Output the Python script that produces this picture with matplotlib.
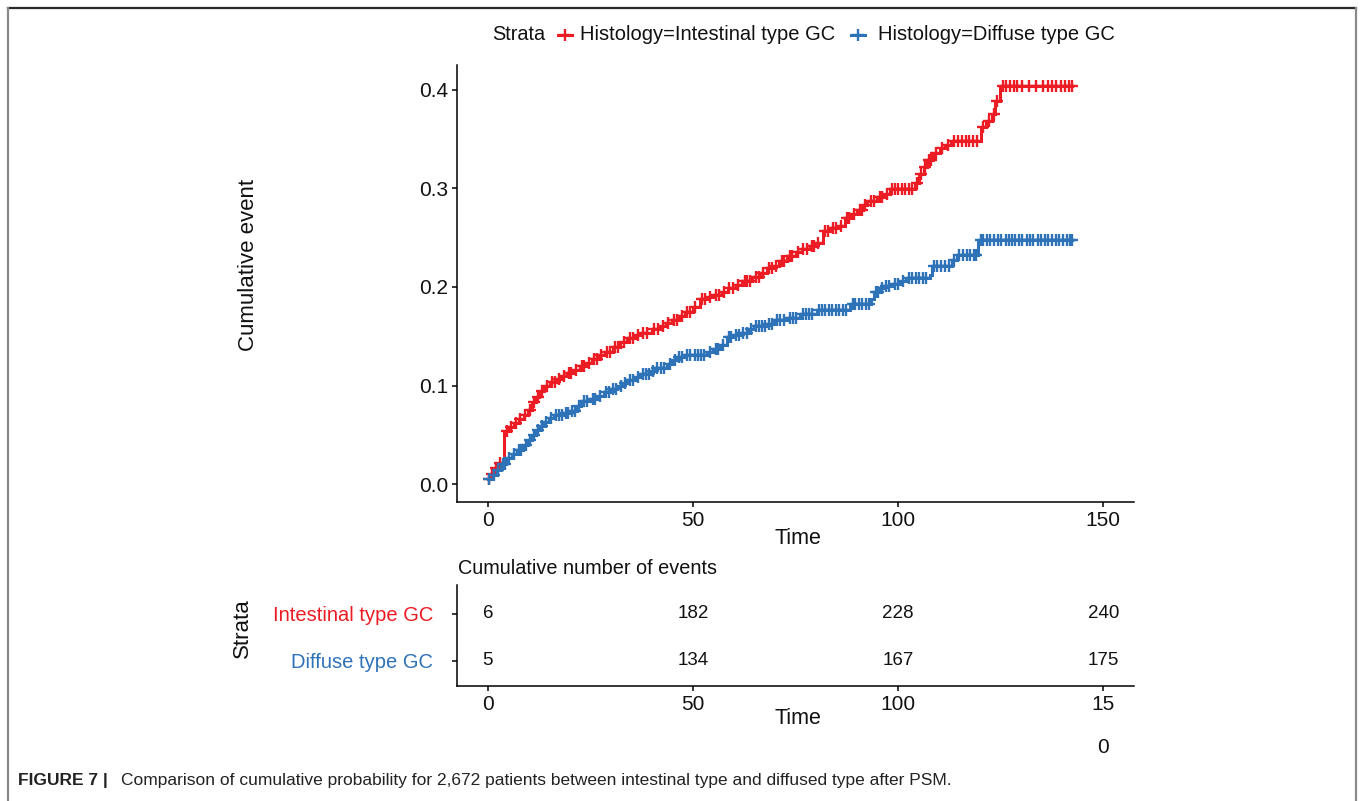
import numpy as np
import matplotlib
matplotlib.use("Agg")
import matplotlib.pyplot as plt
from matplotlib.lines import Line2D

plt.rcParams['font.family'] = ['Liberation Sans', 'DejaVu Sans']

# ---------------- data ----------------
groups = ["Intestinal type GC", "Diffuse type GC"]
legend_labels = ["Histology=Intestinal type GC", "Histology=Diffuse type GC"]
colors = ["#EC1C24", "#2E72B8"]

red_step_t = [0, 0.8, 1.5, 2.5, 4.0, 5.0, 6.3, 7.5, 8.8, 9.8, 10.8, 11.8, 12.6, 13.8, 15.2, 16.8,
              17.8, 19.2, 20.8, 22.5, 24.0, 25.5, 27.0, 28.5, 30.5, 32.2, 34.0, 36.0, 37.5, 40.0,
              42.0, 43.5, 44.8, 46.5, 48.0, 50.0, 51.8, 53.5, 55.0, 57.0, 58.5, 60.5, 62.0, 64.5,
              66.5, 68.0, 69.7, 71.0, 72.9, 75.0, 76.5, 78.5, 80.0, 81.8, 83.5, 85.5, 87.0, 88.5,
              90.0, 91.5, 92.5, 94.8, 96.5, 98.0, 104.2, 105.0, 106.2, 107.0, 108.6, 110.2, 111.5,
              113.0, 120.2, 121.5, 123.0, 123.6, 124.8, 142.5]
red_step_v = [0.005, 0.010, 0.016, 0.022, 0.054, 0.058, 0.062, 0.066, 0.070, 0.075, 0.083, 0.088,
              0.095, 0.100, 0.104, 0.107, 0.110, 0.113, 0.116, 0.120, 0.123, 0.127, 0.131, 0.134,
              0.139, 0.144, 0.148, 0.151, 0.153, 0.157, 0.160, 0.163, 0.167, 0.171, 0.175, 0.180,
              0.188, 0.190, 0.192, 0.195, 0.199, 0.202, 0.206, 0.210, 0.214, 0.219, 0.221, 0.226,
              0.231, 0.235, 0.238, 0.242, 0.245, 0.257, 0.260, 0.262, 0.270, 0.274, 0.278, 0.283,
              0.287, 0.291, 0.294, 0.299, 0.305, 0.315, 0.322, 0.329, 0.336, 0.341, 0.344, 0.348,
              0.362, 0.368, 0.375, 0.388, 0.404, 0.404]

blue_step_t = [0, 1.2, 2.2, 3.2, 4.5, 6.0, 7.2, 8.5, 9.7, 10.8, 11.7, 12.8, 13.7, 15.0, 16.1, 18.5,
               20.0, 21.8, 22.6, 25.0, 26.5, 28.3, 30.0, 31.5, 33.0, 34.0, 36.0, 37.2, 39.5, 40.5,
               43.7, 45.0, 46.2, 48.0, 53.5, 55.0, 56.7, 58.3, 60.0, 61.6, 63.5, 64.8, 68.0, 69.7,
               73.0, 76.2, 80.2, 88.3, 93.5, 94.2, 95.5, 96.4, 98.5, 100.5, 102.0, 107.9, 108.2,
               113.1, 114.3, 119.5, 142.5]
blue_step_v = [0.005, 0.009, 0.014, 0.021, 0.027, 0.031, 0.035, 0.040, 0.045, 0.050, 0.055, 0.059,
               0.063, 0.067, 0.070, 0.072, 0.074, 0.079, 0.084, 0.086, 0.089, 0.094, 0.097, 0.100,
               0.103, 0.106, 0.109, 0.112, 0.115, 0.118, 0.122, 0.126, 0.129, 0.131, 0.134, 0.137,
               0.141, 0.149, 0.151, 0.153, 0.157, 0.160, 0.162, 0.166, 0.169, 0.173, 0.177, 0.183,
               0.188, 0.195, 0.199, 0.201, 0.203, 0.206, 0.209, 0.212, 0.221, 0.227, 0.232, 0.248,
               0.248]

red_censor_t = [0.3, 1.1, 2.0, 3.0, 4.6, 5.6, 6.8, 7.9, 9.1, 10.3, 11.2, 12.2, 13.2, 14.4, 15.6, 16.3,
                17.4, 18.6, 19.7, 20.4, 21.6, 22.9, 23.5, 24.6, 25.9, 26.6, 27.7, 29.0, 29.8, 31.0,
                31.8, 33.1, 34.6, 35.3, 36.6, 37.9, 38.8, 40.6, 41.4, 42.6, 43.9, 45.4, 46.1, 47.4,
                48.6, 49.4, 50.6, 52.3, 52.9, 54.1, 55.6, 56.3, 57.5, 58.9, 59.7, 61.0, 62.6, 63.3,
                64.0, 65.3, 66.1, 67.2, 68.6, 69.2, 70.3, 71.7, 72.3, 73.6, 74.2, 75.6, 76.9, 77.7,
                79.0, 79.5, 80.6, 82.3, 83.0, 84.1, 84.8, 86.2, 87.6, 88.1, 89.3, 90.6, 91.2, 92.0,
                93.3, 94.2, 95.5, 96.0, 97.2, 98.6, 99.3, 100.1, 101.0, 101.8, 102.7, 103.5, 104.6,
                105.6, 106.6, 107.5, 108.1, 109.3, 110.8, 112.2, 113.7, 114.7, 115.6, 116.5, 117.4,
                118.3, 119.3, 120.6, 122.2, 123.3, 124.2, 125.5, 126.4, 127.3, 128.2, 129.1, 130.2,
                131.8, 133.7, 135.4, 136.5, 137.6, 138.6, 139.8, 140.7, 141.6, 142.5]

blue_censor_t = [0.4, 1.6, 2.6, 3.6, 4.1, 5.2, 6.5, 7.6, 8.1, 9.3, 10.4, 11.3, 12.3, 13.1, 14.3, 15.4,
                 16.6, 17.3, 18.1, 19.0, 19.6, 20.5, 21.2, 22.2, 23.4, 24.1, 25.6, 26.1, 27.3, 28.8,
                 29.5, 30.6, 31.2, 32.4, 33.5, 34.6, 35.4, 36.5, 37.8, 38.5, 39.2, 40.2, 41.3, 42.1,
                 42.9, 44.3, 45.6, 46.7, 47.4, 48.5, 49.3, 50.4, 51.2, 52.0, 52.8, 54.2, 55.6, 56.2,
                 57.4, 58.8, 59.4, 60.6, 61.2, 62.3, 63.1, 64.2, 65.4, 66.2, 66.9, 67.6, 68.6, 69.3,
                 70.4, 71.3, 72.1, 73.6, 74.4, 75.2, 76.8, 77.6, 78.4, 79.1, 80.8, 81.5, 82.3, 83.2,
                 84.0, 84.8, 85.6, 86.5, 87.3, 88.9, 89.6, 90.4, 91.2, 92.1, 92.9, 94.6, 95.0, 96.0,
                 97.0, 97.8, 99.2, 100.0, 101.2, 102.6, 103.5, 104.3, 105.1, 106.0, 106.9, 108.8,
                 109.6, 110.5, 111.4, 112.3, 113.6, 114.9, 115.8, 116.7, 117.6, 118.5, 119.0, 120.1,
                 120.8, 121.6, 122.4, 123.5, 124.3, 125.1, 126.2, 127.0, 127.8, 128.6, 129.5, 130.3,
                 131.4, 132.2, 133.0, 134.1, 134.9, 135.7, 136.6, 137.5, 138.4, 139.3, 140.2, 141.1,
                 142.0, 142.4]

table_times = [0, 50, 100, 150]
table_intestinal = [6, 182, 228, 240]
table_diffuse = [5, 134, 167, 175]

x_ticks = [0, 50, 100, 150]
y_ticks = [0.0, 0.1, 0.2, 0.3, 0.4]
y_ticklabels = ["0.0", "0.1", "0.2", "0.3", "0.4"]

# ---------------- figure ----------------
W, H = 1363, 801
fig = plt.figure(figsize=(W / 100, H / 100), dpi=100)


def rect(l, t, r, b):
    return [l / W, 1 - b / H, (r - l) / W, (b - t) / H]


def fx(x):
    return x / W


def fy(y):
    return 1 - y / H


TXT = "#111111"
LW = 2.2
MS = 9
MEW = 1.7

ax = fig.add_axes(rect(457, 65, 1134, 502))
series = [(red_step_t, red_step_v, red_censor_t), (blue_step_t, blue_step_v, blue_censor_t)]
for (st, sv, ct), col in zip(series, colors):
    st = np.asarray(st)
    sv = np.asarray(sv)
    ax.plot(st, sv, drawstyle="steps-post", color=col, lw=LW, solid_joinstyle="miter")
    ct = np.asarray(ct)
    idx = np.searchsorted(st, ct, side="right") - 1
    ax.plot(ct, sv[idx], ls="none", marker="+", ms=MS, mew=MEW, color=col)

ax.set_xlim(-7.5, 157.5)
ax.set_ylim(-0.018, 0.425)
ax.set_xticks(x_ticks)
ax.set_yticks(y_ticks)
ax.set_yticklabels(y_ticklabels)
for s in ["top", "right"]:
    ax.spines[s].set_visible(False)
for s in ["left", "bottom"]:
    ax.spines[s].set_linewidth(1.1)
    ax.spines[s].set_color("black")
ax.tick_params(axis="both", length=3.8, width=1.1, labelsize=15, colors="black",
               labelcolor=TXT, pad=2.5)

fig.text(fx(248), fy(265), "Cumulative event", rotation=90, ha="center", va="center",
         fontsize=16, color=TXT)
fig.text(fx(798), fy(538), "Time", ha="center", va="center", fontsize=15.5, color=TXT)

# legend at top
fig.text(fx(492), fy(35), "Strata", ha="left", va="center", fontsize=14.3, color=TXT)
key_x = [(558, 572), (851, 865)]
text_x = [580, 878]
for (x0, x1), tx, col, lab in zip(key_x, text_x, colors, legend_labels):
    fig.add_artist(Line2D([fx(x0), fx(x1)], [fy(35), fy(35)], color=col, lw=LW,
                          transform=fig.transFigure))
    fig.add_artist(Line2D([fx((x0 + x1) / 2)], [fy(35)], color=col, ls="none", marker="+",
                          ms=MS, mew=MEW, transform=fig.transFigure))
    fig.text(fx(tx), fy(35), lab, ha="left", va="center", fontsize=14.5, color=TXT)

# risk table
ax2 = fig.add_axes(rect(457, 585, 1134, 686))
ax2.set_xlim(-7.5, 157.5)
ax2.set_ylim(0.468, 2.617)
rows = [(2, table_intestinal), (1, table_diffuse)]
for yrow, vals in rows:
    for t, v in zip(table_times, vals):
        ax2.text(t, yrow, str(v), ha="center", va="center", fontsize=13.5, color=TXT)
ax2.set_yticks([2, 1])
ax2.set_yticklabels(groups)
for lab, col in zip(ax2.get_yticklabels(), colors):
    lab.set_color(col)
ax2.set_xticks(x_ticks)
ax2.set_xticklabels(["0", "50", "100", "15\n0"], linespacing=2.6)
for s in ["top", "right"]:
    ax2.spines[s].set_visible(False)
for s in ["left", "bottom"]:
    ax2.spines[s].set_linewidth(1.1)
    ax2.spines[s].set_color("black")
ax2.tick_params(axis="x", length=3.8, width=1.1, labelsize=15, labelcolor=TXT, pad=2.5)
ax2.tick_params(axis="y", length=3.8, width=1.1, labelsize=14.5, pad=13.5)

fig.text(fx(458), fy(568), "Cumulative number of events", ha="left", va="center",
         fontsize=14.3, color=TXT)
fig.text(fx(242), fy(628), "Strata", rotation=90, ha="center", va="center", fontsize=16,
         color=TXT)
fig.text(fx(798), fy(718), "Time", ha="center", va="center", fontsize=15.5, color=TXT)

# frame
fig.add_artist(Line2D([fx(8), fx(1356)], [fy(8), fy(8)], color="#2a2a2a", lw=1.6,
                      transform=fig.transFigure))
fig.add_artist(Line2D([fx(8), fx(8)], [fy(8), fy(801)], color="#8a8a8a", lw=1.6,
                      transform=fig.transFigure))
fig.add_artist(Line2D([fx(1356), fx(1356)], [fy(8), fy(801)], color="#8a8a8a", lw=1.6,
                      transform=fig.transFigure))

# caption
fig.text(fx(18), fy(781), "FIGURE 7 |", ha="left", va="center", fontsize=12.5,
         fontweight="bold", color="#222222")
fig.text(fx(121), fy(781),
         "Comparison of cumulative probability for 2,672 patients between intestinal type and diffused type after PSM.",
         ha="left", va="center", fontsize=12.5, color="#222222")

fig.savefig("out.png", dpi=100)
